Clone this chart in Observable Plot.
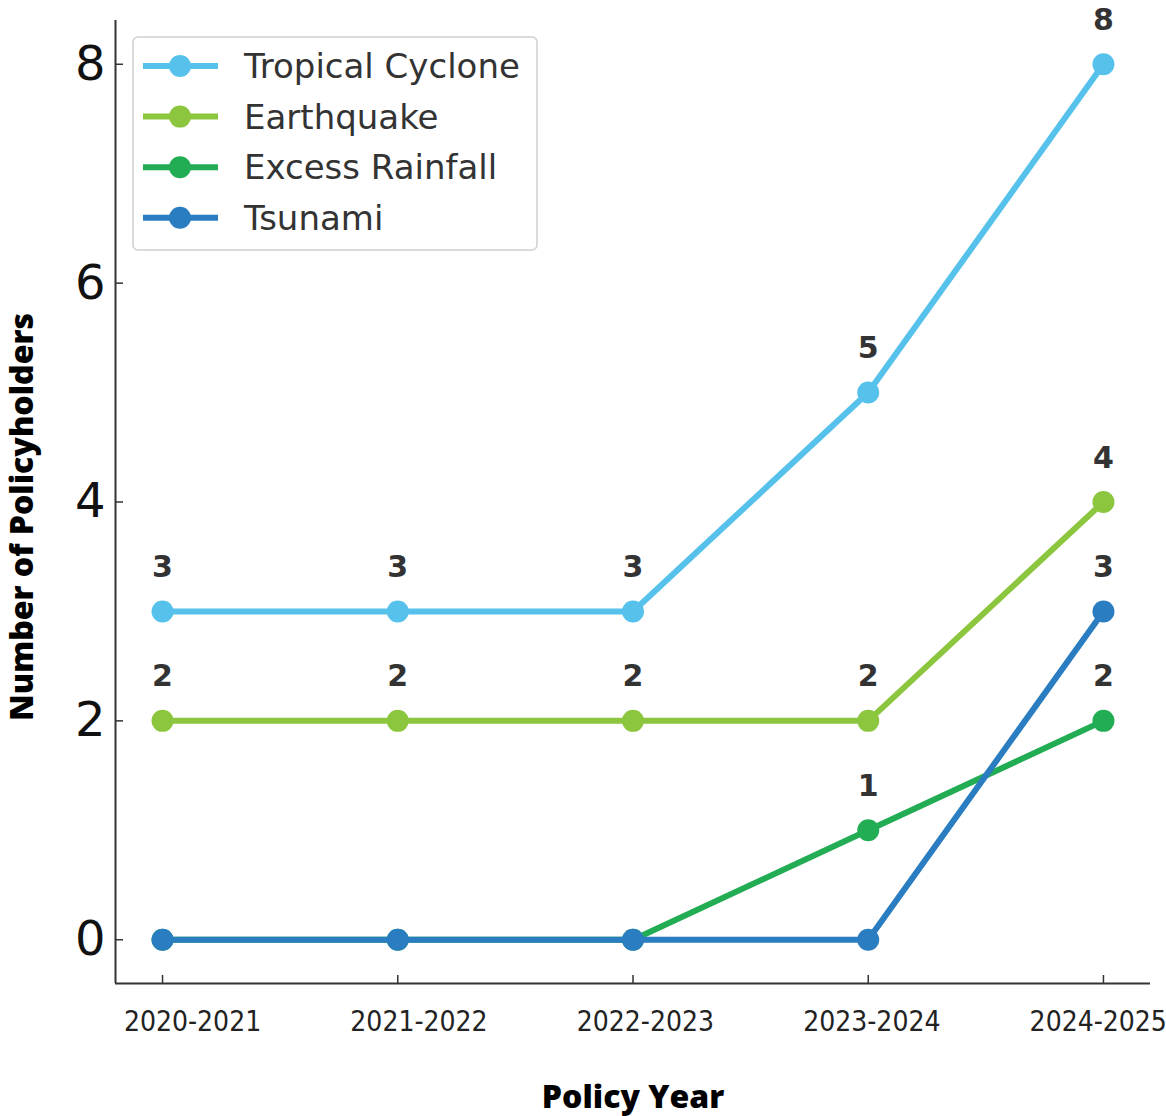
<!DOCTYPE html>
<html>
<head>
<meta charset="utf-8">
<script src="https://cdn.jsdelivr.net/npm/d3@7"></script>
<script src="https://cdn.jsdelivr.net/npm/@observablehq/plot@0.6"></script>
<style>
  html, body { margin: 0; padding: 0; background: #fff; }
  #chart { width: 1166px; height: 1116px; }
</style>
</head>
<body>
<div id="chart"></div>
<script>
const years = ["2020-2021", "2021-2022", "2022-2023", "2023-2024", "2024-2025"];
const seriesNames = ["Tropical Cyclone", "Earthquake", "Excess Rainfall", "Tsunami"];
const colors = ["#56c2ec", "#8cc63e", "#22ad55", "#2a7dc0"];
const tropicalCyclone = [3, 3, 3, 5, 8];
const earthquake = [2, 2, 2, 2, 4];
const excessRainfall = [0, 0, 0, 1, 2];
const tsunami = [0, 0, 0, 0, 3];
const yTicks = [0, 2, 4, 6, 8];

const seriesValues = [tropicalCyclone, earthquake, excessRainfall, tsunami];
const data = seriesNames.flatMap((s, si) =>
  years.map((yr, i) => ({ series: s, year: yr, idx: i, value: seriesValues[si][i], color: colors[si] }))
);

const W = 1166, H = 1116;
const mL = 115, mR = 16, mT = 20, mB = 133;
const frameW = W - mL - mR, frameH = H - mT - mB;
const xDomain = [-0.2, years.length - 1 + 0.2];
const yDomain = [-0.4, 8.4];
const axisColor = "#333";

const seriesMarks = seriesNames.flatMap((s, si) => {
  const d = data.filter(r => r.series === s);
  return [
    Plot.line(d, { x: "idx", y: "value", stroke: colors[si], strokeWidth: 6, strokeLinejoin: "round", strokeLinecap: "butt" }),
    Plot.dot(d, { x: "idx", y: "value", r: 11, fill: colors[si], stroke: "none" })
  ];
});

// x tick labels (label spacing in the reference is slightly tighter than the tick spacing)
const xLabelMarks = years.map((yr, i) =>
  Plot.axisX({ ticks: [i], tickFormat: () => yr, tickSize: 0, tickPadding: 28, dx: 30 - i * 8.8, label: null, fontSize: 28, fontFamily: "DejaVu Sans Condensed, DejaVu Sans", fill: "#222" })
);

const plot = Plot.plot({
  width: W,
  height: H,
  marginLeft: mL,
  marginRight: mR,
  marginTop: mT,
  marginBottom: mB,
  style: { background: "#fff", overflow: "visible" },
  x: { type: "linear", domain: xDomain },
  y: { domain: yDomain },
  marks: [
    Plot.axisY({ ticks: yTicks, tickSize: 0, tickPadding: 10, label: null, fontSize: 48, fontFamily: "DejaVu Sans", fill: "#111" }),
    ...xLabelMarks,
    Plot.tickY(yTicks, { y: d => d, insetRight: frameW - 8, stroke: axisColor, strokeWidth: 1.5 }),
    Plot.tickX(years.map((_, i) => i), { x: d => d, insetTop: frameH - 8, stroke: axisColor, strokeWidth: 1.5 }),
    Plot.ruleY([yDomain[0]], { stroke: axisColor, strokeWidth: 2 }),
    Plot.ruleX([xDomain[0]], { stroke: axisColor, strokeWidth: 2 }),
    ...seriesMarks,
    Plot.text(data.filter(d => d.value > 0), { x: "idx", y: "value", text: d => String(d.value), dy: -44, fontSize: 30, fontWeight: "bold", fontFamily: "DejaVu Sans", fill: "#333" }),
    Plot.text(["Policy Year"], { frameAnchor: "bottom", dy: 124, fontSize: 32, fontWeight: 800, fontFamily: "Open Sans", fill: "#000" }),
    Plot.text(["Number of Policyholders"], { frameAnchor: "left", textAnchor: "middle", dx: -93, dy: 15, rotate: -90, fontSize: 32, fontWeight: 800, fontFamily: "Open Sans", fill: "#000" })
  ]
});

document.getElementById("chart").appendChild(plot);

// Legend inside the plot area (upper left)
const svg = d3.select(plot);
const lg = svg.append("g").attr("transform", `translate(${mL + 18},${mT + 17})`);
lg.append("rect")
  .attr("x", 0).attr("y", 0).attr("width", 404).attr("height", 213)
  .attr("rx", 5).attr("fill", "#fff").attr("fill-opacity", 0.85)
  .attr("stroke", "#d0d0d0").attr("stroke-width", 1.5);
seriesNames.forEach((s, i) => {
  const cy = 29 + i * 50.6;
  const g = lg.append("g").attr("transform", `translate(0,${cy})`);
  g.append("line").attr("x1", 10).attr("x2", 85).attr("y1", 0).attr("y2", 0)
    .attr("stroke", colors[i]).attr("stroke-width", 6);
  g.append("circle").attr("cx", 47).attr("cy", 0).attr("r", 11).attr("fill", colors[i]);
  g.append("text").attr("x", 111).attr("y", 0).attr("dy", "0.36em")
    .attr("text-anchor", "start")
    .attr("font-family", "DejaVu Sans").attr("font-size", 34).attr("fill", "#333")
    .text(s);
});
</script>
</body>
</html>
